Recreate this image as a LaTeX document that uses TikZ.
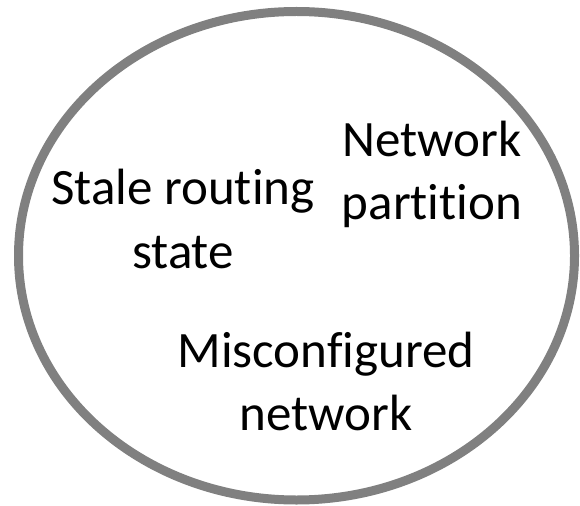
\documentclass[tikz,border=0pt]{standalone}
\usepackage{fontspec}
\setmainfont{Carlito}[Ligatures=NoCommon]
\begin{document}
\begin{tikzpicture}[x=1bp,y=-1bp,
  cause/.style={anchor=base,align=center,inner sep=0pt,
    font=\fontsize{51bp}{63bp}\selectfont}]
\useasboundingbox (0,0) rectangle (580,506);
% outer set
\draw[line width=9bp,color={rgb,255:red,128;green,128;blue,128}]
  (296.5,255.75) ellipse [x radius=278, y radius=244.25];
% labels (base anchor sits on the last line)
\node[cause] (partition) at (432,220) {Network\\partition};
\node[cause] (stale) at (183,268) {Stale routing\\state};
\node[cause] (misconf) at (326,430) {Misconfigured\\network};
\end{tikzpicture}
\end{document}
